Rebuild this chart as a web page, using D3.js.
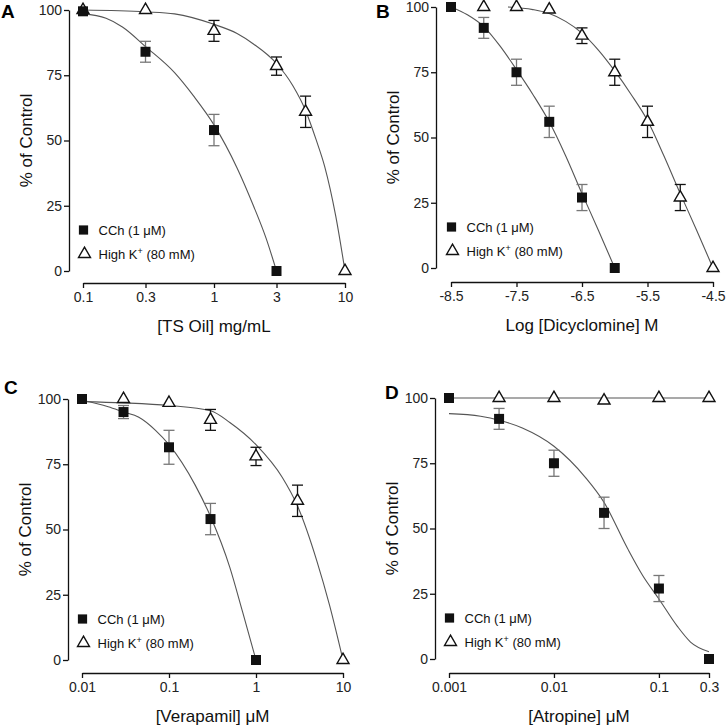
<!DOCTYPE html>
<html>
<head>
<meta charset="utf-8">
<script src="https://cdn.jsdelivr.net/npm/d3@7"></script>
<style>
  body { margin: 0; background: #fff; }
  svg { font-family: "Liberation Sans", Arial, sans-serif; }
  .axis path, .axis line { stroke: #111; stroke-width: 1.3; }
  .axis text { font-size: 14px; fill: #222; }
  .fit { fill: none; stroke: #555; stroke-width: 1.1; }
</style>
</head>
<body>
<svg width="726" height="726"></svg>
<script>
// Panel A - TS Oil
let aTicks = [0.1, 0.3, 1, 3, 10]
let aCchX = [0.1, 0.3, 1, 3]
let aCchY = [99.5, 84, 54, 0]
let aCchErr = [0, 4, 6, 0]
let aKX = [0.1, 0.3, 1, 3, 5, 10]
let aKY = [100, 100, 92, 78.5, 61, 0]
let aKErr = [0, 0, 4, 3.5, 6, 0]
let aCchFitX = [0.1, 0.15, 0.2, 0.3, 0.5, 0.7, 1, 1.5, 2, 2.5, 3]
let aCchFitY = [98.5, 96.8, 93.5, 86, 76, 67, 56, 39.5, 25, 12.5, 0]
let aKFitX = [0.1, 0.3, 0.5, 1, 1.5, 2, 3, 4, 5, 6, 7, 8.5, 10]
let aKFitY = [100, 99.3, 98.5, 94.5, 91, 87, 79.5, 71, 61.5, 50.5, 40, 21, 0]

// Panel B - Dicyclomine
let bTicks = [-8.5, -7.5, -6.5, -5.5, -4.5]
let bCchX = [-8.5, -8, -7.5, -7, -6.5, -6]
let bCchY = [100, 92, 75, 56, 27, 0]
let bCchErr = [0, 4, 5, 6, 5, 0]
let bKX = [-8, -7.5, -7, -6.5, -6, -5.5, -5, -4.5]
let bKY = [100, 100, 99, 89, 75, 56, 27, 0]
let bKErr = [0, 0, 0, 3, 5, 6, 5, 0]
let bCchFitX = [-8.5, -8.25, -8, -7.75, -7.5, -7.25, -7, -6.75, -6.5, -6.25, -6]
let bCchFitY = [100, 97, 92.5, 85, 76, 66.5, 56, 43, 28.5, 14.5, 0]
let bKFitX = [-7.63, -7.25, -7, -6.75, -6.5, -6.25, -6, -5.75, -5.5, -5.25, -5, -4.75, -4.5]
let bKFitY = [100, 99, 97.5, 94.5, 90, 83.5, 75.5, 66.5, 56.5, 43, 28.5, 14.5, 0]

// Panel C - Verapamil
let cTicks = [0.01, 0.1, 1, 10]
let cCchX = [0.01, 0.03, 0.1, 0.3, 1]
let cCchY = [100, 95, 81.5, 54, 0]
let cCchErr = [0, 2.5, 6.5, 6, 0]
let cKX = [0.03, 0.1, 0.3, 1, 3, 10]
let cKY = [100, 98.5, 92, 78, 61, 0]
let cKErr = [0, 0, 4, 3.5, 6, 0]
let cCchFitX = [0.01, 0.02, 0.03, 0.045, 0.07, 0.1, 0.2, 0.3, 0.5, 0.7, 1]
let cCchFitY = [99.5, 97, 95, 93, 88, 82.5, 67, 55, 35.5, 18.5, 0]
let cKFitX = [0.01, 0.03, 0.1, 0.3, 0.5, 1, 2, 3, 5, 7, 10]
let cKFitY = [99, 98.5, 97.5, 95.5, 91, 82.5, 70, 59, 38, 21, 0]

// Panel D - Atropine
let dTicks = [0.001, 0.01, 0.1, 0.3]
let dCchX = [0.001, 0.003, 0.01, 0.03, 0.1, 0.3]
let dCchY = [100, 92, 75, 56, 27, 0]
let dCchErr = [0, 4, 5, 6, 5, 0]
let dKX = [0.003, 0.01, 0.03, 0.1, 0.3]
let dKY = [100, 100, 99, 100, 100]
let dKErr = [0, 0, 0, 0, 0]
let dCchFitX = [0.001, 0.002, 0.003, 0.005, 0.01, 0.02, 0.03, 0.05, 0.07, 0.1, 0.15, 0.2, 0.3]
let dCchFitY = [94, 93, 91.5, 88.5, 81.5, 69.5, 60, 42.5, 32, 23, 12.5, 6.5, 2.8]
let dKFitX = [0.001, 0.3]
let dKFitY = [100, 100]

let yTicks = [0, 25, 50, 75, 100]
let cchLabel = 'CCh (1 \u03bcM)'

let zip = (xs, ys, es) => xs.map((x, i) => ({x: x, y: ys[i], e: es ? es[i] : 0}))

let panels = [
  {name: 'A', lx: 1, ly: 18, yAxisX: 69, yTop: 10, yBot: 271, xAxisY: 283, xL: 83, xR: 345,
   log: true, domain: [0.1, 10], ticks: aTicks, title: '[TS Oil] mg/mL',
   cch: zip(aCchX, aCchY, aCchErr), k: zip(aKX, aKY, aKErr),
   cchFit: zip(aCchFitX, aCchFitY), kFit: zip(aKFitX, aKFitY)},
  {name: 'B', lx: 376, ly: 18, yAxisX: 436, yTop: 7, yBot: 268, xAxisY: 282, xL: 451, xR: 713,
   log: false, domain: [-8.5, -4.5], ticks: bTicks, title: 'Log [Dicyclomine] M',
   cch: zip(bCchX, bCchY, bCchErr), k: zip(bKX, bKY, bKErr),
   cchFit: zip(bCchFitX, bCchFitY), kFit: zip(bKFitX, bKFitY)},
  {name: 'C', lx: 4, ly: 394, yAxisX: 68, yTop: 399, yBot: 660, xAxisY: 673, xL: 82, xR: 343,
   log: true, domain: [0.01, 10], ticks: cTicks, title: '[Verapamil] \u03bcM',
   cch: zip(cCchX, cCchY, cCchErr), k: zip(cKX, cKY, cKErr),
   cchFit: zip(cCchFitX, cCchFitY), kFit: zip(cKFitX, cKFitY)},
  {name: 'D', lx: 385, ly: 399, yAxisX: 435, yTop: 398, yBot: 659, xAxisY: 673, xL: 449, xR: 709,
   log: true, domain: [0.001, 0.3], ticks: dTicks, title: '[Atropine] \u03bcM',
   cch: zip(dCchX, dCchY, dCchErr), k: zip(dKX, dKY, dKErr),
   cchFit: zip(dCchFitX, dCchFitY), kFit: zip(dKFitX, dKFitY)}
]

var svg = d3.select('svg')
let square = d3.symbol(d3.symbolSquare, 100)
let squareSmall = d3.symbol(d3.symbolSquare, 85)
let triangle = d3.symbol(d3.symbolTriangle, 62)

let drawPanel = (p) => {
  let g = svg.append('g')
  let x = (p.log ? d3.scaleLog() : d3.scaleLinear()).domain(p.domain).range([p.xL, p.xR])
  let y = d3.scaleLinear().domain([0, 100]).range([p.yBot, p.yTop])

  // axes
  g.append('g').attr('class', 'axis')
    .attr('transform', 'translate(' + p.yAxisX + ',0)')
    .call(d3.axisLeft(y).tickValues(yTicks).tickSize(5).tickSizeOuter(0).tickPadding(2).tickFormat(d => String(d)))
  g.append('g').attr('class', 'axis')
    .attr('transform', 'translate(0,' + p.xAxisY + ')')
    .call(d3.axisBottom(x).tickValues(p.ticks).tickSize(5).tickSizeOuter(0).tickPadding(4).tickFormat(d => String(d)))

  // titles
  g.append('text')
    .attr('x', (p.xL + p.xR) / 2).attr('y', p.xAxisY + 49)
    .attr('text-anchor', 'middle').style('font-size', '17px').attr('fill', '#111')
    .text(p.title)
  g.append('text')
    .attr('transform', 'translate(' + (p.yAxisX - 37) + ',' + ((p.yTop + p.yBot) / 2) + ') rotate(-90)')
    .attr('text-anchor', 'middle').style('font-size', '17px').attr('fill', '#111')
    .text('% of Control')
  g.append('text')
    .attr('x', p.lx).attr('y', p.ly)
    .style('font-size', '19px').style('font-weight', 'bold')
    .text(p.name)

  // fitted curves
  let line = d3.line().x(d => x(d.x)).y(d => y(d.y)).curve(d3.curveMonotoneX)
  g.append('path').attr('class', 'fit').attr('d', line(p.kFit))
  g.append('path').attr('class', 'fit').attr('d', line(p.cchFit))

  // error bars
  let errBars = (data, color) => {
    let eg = g.append('g').attr('stroke', color).attr('stroke-width', 1.3)
    data.filter(d => d.e > 0).forEach(d => {
      let cx = x(d.x)
      eg.append('line').attr('x1', cx).attr('x2', cx).attr('y1', y(d.y - d.e)).attr('y2', y(d.y + d.e))
      eg.append('line').attr('x1', cx - 5.5).attr('x2', cx + 5.5).attr('y1', y(d.y + d.e)).attr('y2', y(d.y + d.e))
      eg.append('line').attr('x1', cx - 5.5).attr('x2', cx + 5.5).attr('y1', y(d.y - d.e)).attr('y2', y(d.y - d.e))
    })
  }
  errBars(p.k, '#111')
  errBars(p.cch, '#777')

  // markers: triangles beneath squares
  g.selectAll('.tri').data(p.k).enter().append('path')
    .attr('d', triangle)
    .attr('transform', d => 'translate(' + x(d.x) + ',' + y(d.y) + ')')
    .attr('fill', '#fff').attr('stroke', '#111').attr('stroke-width', 1.4)
  g.selectAll('.sq').data(p.cch).enter().append('path')
    .attr('d', square)
    .attr('transform', d => 'translate(' + x(d.x) + ',' + y(d.y) + ')')
    .attr('fill', '#111')

  // legend
  let mx = p.xL + 0.5
  let r1 = p.yBot - 41
  let r2 = p.yBot - 17
  g.append('path').attr('d', squareSmall).attr('transform', 'translate(' + mx + ',' + r1 + ')').attr('fill', '#111')
  g.append('path').attr('d', triangle).attr('transform', 'translate(' + (mx + 1) + ',' + r2 + ')')
    .attr('fill', '#fff').attr('stroke', '#111').attr('stroke-width', 1.4)
  g.append('text').attr('x', mx + 15).attr('y', r1 + 4.5).style('font-size', '13px').attr('fill', '#111').text(cchLabel)
  let t = g.append('text').attr('x', mx + 15).attr('y', r2 + 4.5).style('font-size', '13px').attr('fill', '#111')
  t.append('tspan').text('High K')
  t.append('tspan').attr('dy', -5).style('font-size', '9px').text('+')
  t.append('tspan').attr('dy', 5).text(' (80 mM)')
}

panels.forEach(drawPanel)
</script>
</body>
</html>
